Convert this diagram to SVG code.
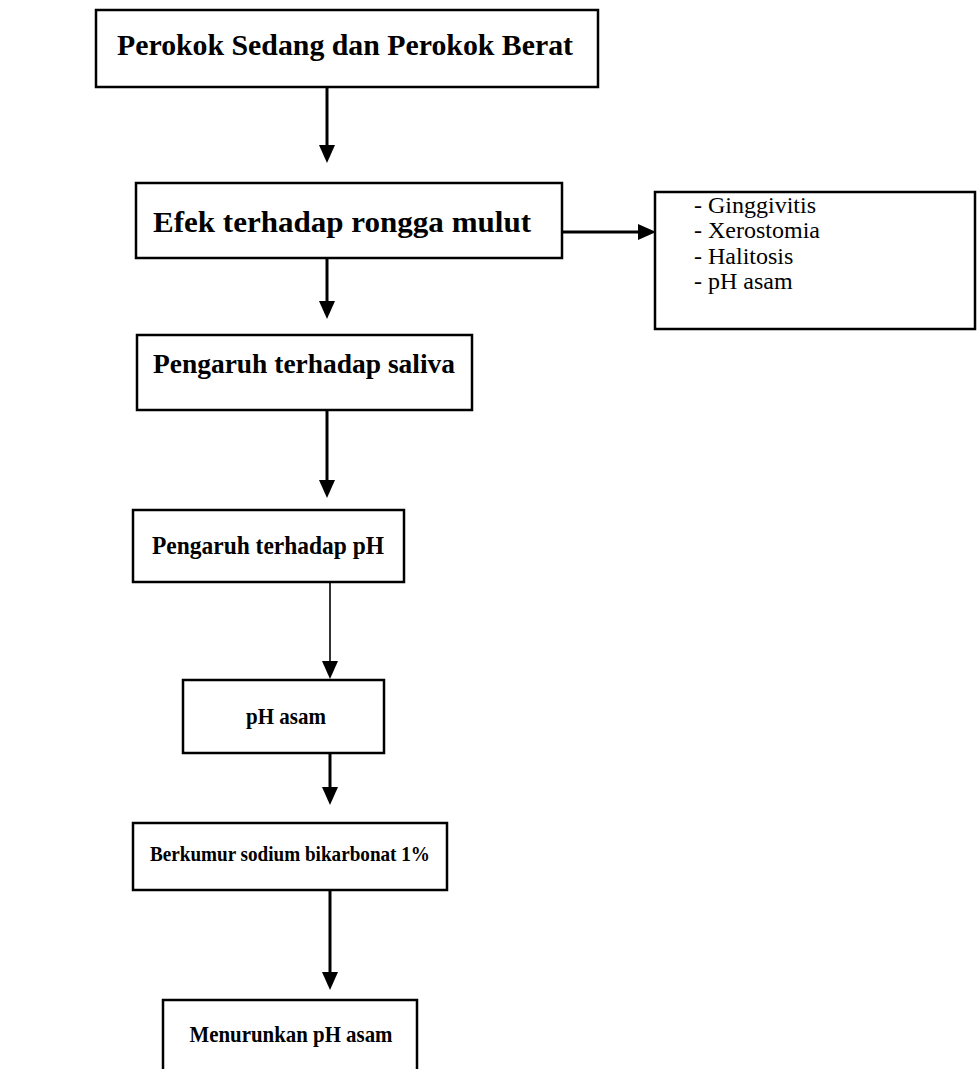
<svg xmlns="http://www.w3.org/2000/svg" width="977" height="1069" viewBox="0 0 977 1069">
<style>
.box{fill:#fff;stroke:#000;stroke-width:2.5}
.t{font-family:"Liberation Serif","Times New Roman",serif;font-weight:bold;fill:#000;text-anchor:middle}
.l{font-family:"Liberation Serif","Times New Roman",serif;fill:#000;font-size:24px}
.c{stroke:#000;stroke-width:3;fill:none}
.thin{stroke-width:1.6}
</style>
<defs>
<marker id="ah" markerUnits="userSpaceOnUse" markerWidth="18" markerHeight="16" refX="8" refY="8" orient="auto">
<path d="M0,0 L18,8 L0,16 z" fill="#000"/>
</marker>
</defs>
<rect width="977" height="1069" fill="#fff"/>
<g id="connectors">
<line class="c" x1="327" y1="87" x2="327" y2="153" marker-end="url(#ah)"/>
<line class="c" x1="327" y1="258" x2="327" y2="309" marker-end="url(#ah)"/>
<line class="c" x1="327" y1="410" x2="327" y2="488" marker-end="url(#ah)"/>
<line class="c thin" x1="330" y1="582" x2="330" y2="669" marker-end="url(#ah)"/>
<line class="c" x1="330" y1="753" x2="330" y2="795" marker-end="url(#ah)"/>
<line class="c" x1="330" y1="890" x2="330" y2="980" marker-end="url(#ah)"/>
<line class="c" x1="562" y1="232" x2="646" y2="232" marker-end="url(#ah)"/>
</g>
<g id="n1">
<rect class="box" x="96" y="10" width="502" height="77"/>
<text class="t" x="345" y="55" font-size="29" textLength="456" lengthAdjust="spacingAndGlyphs">Perokok Sedang dan Perokok Berat</text>
</g>
<g id="n2">
<rect class="box" x="136" y="183" width="426" height="75"/>
<text class="t" x="342" y="232" font-size="30" textLength="378" lengthAdjust="spacingAndGlyphs">Efek terhadap rongga mulut</text>
</g>
<g id="n3">
<rect class="box" x="655" y="192" width="320" height="137"/>
<text class="l" x="694" y="213">- Ginggivitis</text>
<text class="l" x="694" y="238">- Xerostomia</text>
<text class="l" x="694" y="264">- Halitosis</text>
<text class="l" x="694" y="289">- pH asam</text>
</g>
<g id="n4">
<rect class="box" x="137" y="335" width="335" height="75"/>
<text class="t" x="304" y="373" font-size="28" textLength="302" lengthAdjust="spacingAndGlyphs">Pengaruh terhadap saliva</text>
</g>
<g id="n5">
<rect class="box" x="133" y="510" width="271" height="72"/>
<text class="t" x="268" y="554" font-size="25" textLength="232" lengthAdjust="spacingAndGlyphs">Pengaruh terhadap pH</text>
</g>
<g id="n6">
<rect class="box" x="183" y="680" width="201" height="73"/>
<text class="t" x="286" y="724" font-size="23" textLength="80" lengthAdjust="spacingAndGlyphs">pH asam</text>
</g>
<g id="n7">
<rect class="box" x="133" y="823" width="314" height="67"/>
<text class="t" x="290" y="861" font-size="21" textLength="280" lengthAdjust="spacingAndGlyphs">Berkumur sodium bikarbonat 1%</text>
</g>
<g id="n8">
<path class="box" d="M163,1069 V1000 H417 V1069"/>
<text class="t" x="291" y="1042" font-size="23" textLength="203" lengthAdjust="spacingAndGlyphs">Menurunkan pH asam</text>
</g>
</svg>
